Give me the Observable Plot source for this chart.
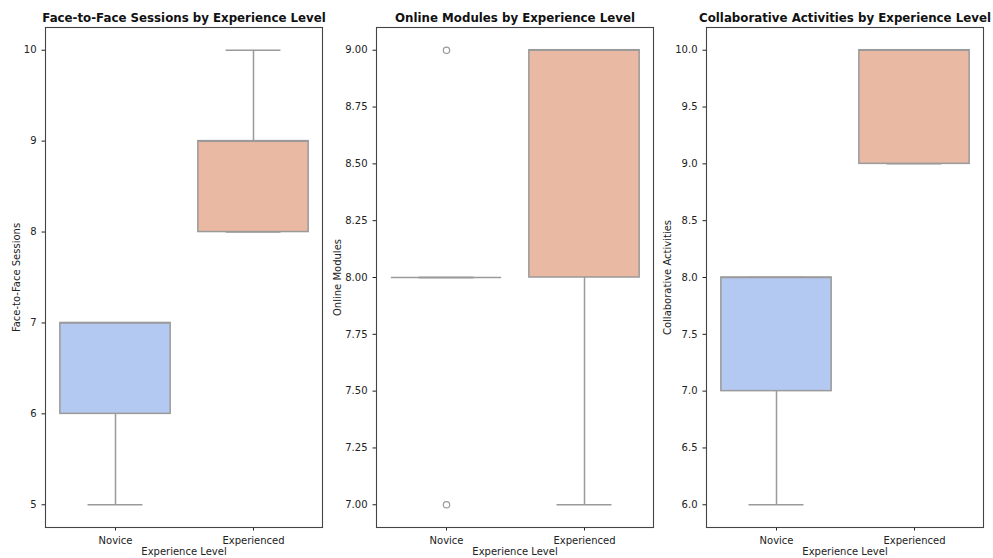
<!DOCTYPE html>
<html>
<head>
<meta charset="utf-8">
<script src="https://cdn.jsdelivr.net/npm/d3@7"></script>
<script src="https://cdn.jsdelivr.net/npm/@observablehq/plot@0.6"></script>
<style>
  body { margin: 0; background: #fff; }
  #fig { position: relative; width: 993px; height: 558px; font-family: "DejaVu Sans", sans-serif; }
  #fig svg { position: absolute; top: 0; overflow: visible; }
</style>
</head>
<body>
<div id="fig"></div>
<script>
// Experience levels (x categories)
const levels = ["Novice", "Experienced"];

// One entry per panel
const metrics = ["Face-to-Face Sessions", "Online Modules", "Collaborative Activities"];
const titles = [
  "Face-to-Face Sessions by Experience Level",
  "Online Modules by Experience Level",
  "Collaborative Activities by Experience Level"
];

// Box statistics per panel: [Novice, Experienced]
const whiskerLow  = [[5, 8], [8, 7], [6, 9]];
const quartile1   = [[6, 8], [8, 8], [7, 9]];
const medians     = [[7, 9], [8, 9], [8, 10]];
const quartile3   = [[7, 9], [8, 9], [8, 10]];
const whiskerHigh = [[7, 10], [8, 9], [8, 10]];

// Outlying points per panel: [Novice list, Experienced list]
const outliers = [[[], []], [[9, 7], []], [[], []]];

// Y axis ticks and limits per panel
const yTicks = [
  [5, 6, 7, 8, 9, 10],
  [7.00, 7.25, 7.50, 7.75, 8.00, 8.25, 8.50, 8.75, 9.00],
  [6.0, 6.5, 7.0, 7.5, 8.0, 8.5, 9.0, 9.5, 10.0]
];
const yDomains = [[4.75, 10.25], [6.9, 9.1], [5.8, 10.2]];
const yDecimals = [0, 2, 1];

const fills = {Novice: "#b4c9f1", Experienced: "#eab9a4"};
const lineColor = "#9a9a9a";

const frameLefts = [45, 375.5, 706];
const frameWidth = 277;
const mL = 45, mR = 8, mT = 27, mB = 31;
const band = frameWidth / levels.length;
const labelOffsets = [33, 43, 43];

const fig = document.getElementById("fig");

metrics.forEach((metric, p) => {
  const rows = levels.map((level, i) => ({
    level,
    lo: whiskerLow[p][i],
    q1: quartile1[p][i],
    med: medians[p][i],
    q3: quartile3[p][i],
    hi: whiskerHigh[p][i]
  }));
  const pts = levels.flatMap((level, i) => outliers[p][i].map(v => ({level, v})));
  const boxInset = {insetLeft: band * 0.1, insetRight: band * 0.1};
  const capInset = {insetLeft: band * 0.3, insetRight: band * 0.3};

  const chart = Plot.plot({
    width: mL + frameWidth + mR,
    height: 558,
    marginLeft: mL, marginRight: mR, marginTop: mT, marginBottom: mB,
    style: {fontFamily: "DejaVu Sans, sans-serif", fontSize: "10px", color: "#222", background: "transparent"},
    x: {domain: levels, padding: 0, label: "Experience Level", labelAnchor: "center", labelOffset: 27, tickSize: 3.5},
    y: {domain: yDomains[p], ticks: yTicks[p], tickFormat: d => d.toFixed(yDecimals[p]),
        label: metric, labelAnchor: "center", labelArrow: "none", labelOffset: labelOffsets[p], tickSize: 3.5},
    marks: [
      // whiskers
      Plot.ruleX(rows, {x: "level", y1: "lo", y2: "q1", stroke: lineColor, strokeWidth: 1.5}),
      Plot.ruleX(rows, {x: "level", y1: "q3", y2: "hi", stroke: lineColor, strokeWidth: 1.5}),
      // whisker caps
      Plot.tickY(rows, {x: "level", y: "lo", stroke: lineColor, strokeWidth: 1.5, ...capInset}),
      Plot.tickY(rows, {x: "level", y: "hi", stroke: lineColor, strokeWidth: 1.5, ...capInset}),
      // boxes
      Plot.barY(rows, {x: "level", y1: "q1", y2: "q3", fill: d => fills[d.level], stroke: lineColor, strokeWidth: 1.5, ...boxInset}),
      // medians
      Plot.tickY(rows, {x: "level", y: "med", stroke: lineColor, strokeWidth: 1.5, ...boxInset}),
      // outliers
      Plot.dot(pts, {x: "level", y: "v", r: 3.2, stroke: lineColor, strokeWidth: 1.2, fill: "none"}),
      Plot.frame({stroke: "#444", strokeWidth: 1.1}),
      Plot.text([titles[p]], {frameAnchor: "top", dy: -6, lineAnchor: "bottom", fontWeight: "bold", fontSize: 11.8, fill: "#111"})
    ]
  });
  chart.style.left = (frameLefts[p] - mL) + "px";
  fig.appendChild(chart);
});
</script>
</body>
</html>
